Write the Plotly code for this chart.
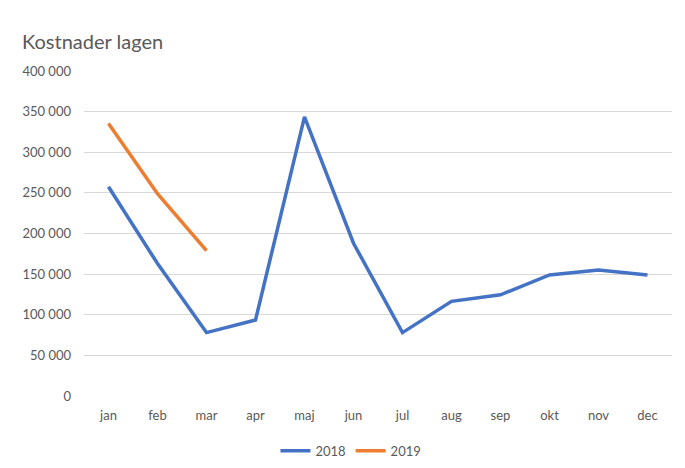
import plotly.graph_objects as go

# --- DATA ---
months = ['jan', 'feb', 'mar', 'apr', 'maj', 'jun', 'jul', 'aug', 'sep', 'okt', 'nov', 'dec']
costs_2018 = [257500, 163000, 78000, 93500, 343500, 188000, 78000, 116500, 124500, 149000, 155000, 149000]
costs_2019 = [335500, 249000, 179000]
y_ticks = [0, 50000, 100000, 150000, 200000, 250000, 300000, 350000, 400000]

# --- STYLES ---
BLUE = '#4472C4'
ORANGE = '#ED7D31'
TEXT = '#595959'
GRID = '#D9D9D9'
FONT = 'Lato, Open Sans, sans-serif'

# page body has an 8px margin, so the figure is a bit smaller than the window
W, H = 669, 452

fig = go.Figure()

fig.add_trace(go.Scatter(
    x=months, y=costs_2018, mode='lines', name='2018',
    line=dict(color=BLUE, width=3.5),
))
fig.add_trace(go.Scatter(
    x=months[:len(costs_2019)], y=costs_2019, mode='lines', name='2019',
    line=dict(color=ORANGE, width=3.5),
))

fig.update_layout(
    width=W, height=H,
    font=dict(family=FONT, color=TEXT, size=13),
    paper_bgcolor='white', plot_bgcolor='white',
    separators=', ',
    title=dict(text='Kostnader lagen', xref='container', x=14 / W, xanchor='left',
               yref='container', y=1 - 34 / H, yanchor='middle',
               font=dict(size=20, color=TEXT)),
    # fixed margins: keep the legend from shrinking the plot area
    margin=dict(l=76, r=5, t=63, b=64, autoexpand=False),
    xaxis=dict(
        range=[-0.5, 11.5],
        showgrid=False, showline=False, zeroline=False,
        ticks='', tickfont=dict(size=13, color=TEXT),
        ticklabelstandoff=10,
    ),
    yaxis=dict(
        range=[0, 400000], tickvals=y_ticks, tickformat=',d',
        showgrid=True, gridcolor=GRID, gridwidth=1,
        zeroline=False, showline=False, ticks='',
        tickfont=dict(size=13, color=TEXT), ticklabelstandoff=12,
    ),
    legend=dict(
        orientation='h', x=0.454, xanchor='center', y=-0.169, yanchor='middle',
        font=dict(size=13, color=TEXT), bgcolor='rgba(0,0,0,0)',
    ),
)

fig.write_html("out.html")
